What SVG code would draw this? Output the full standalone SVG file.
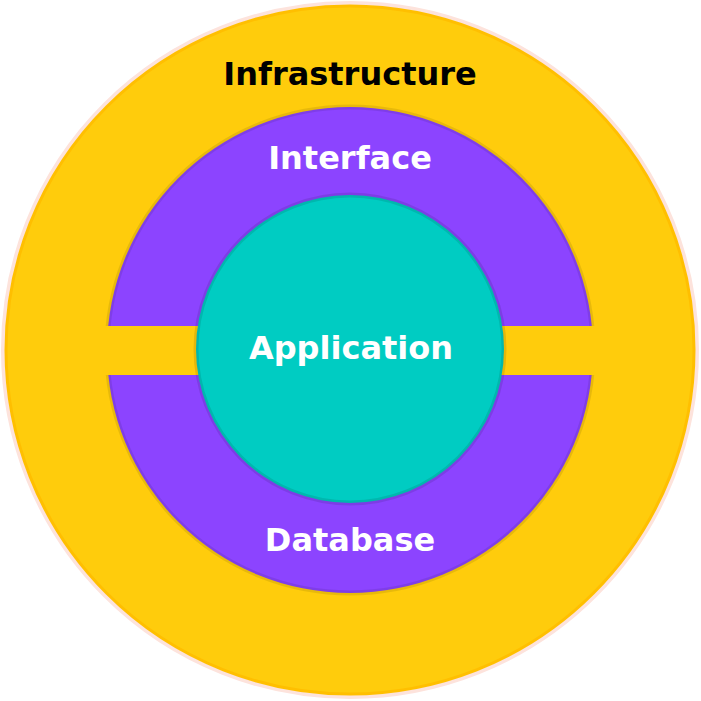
<svg xmlns="http://www.w3.org/2000/svg" width="701" height="701" viewBox="0 0 701 701">
<style>
.lbl{font-family:"DejaVu Sans",sans-serif;font-weight:bold;font-size:32px;text-anchor:middle}
.w{fill:#ffffff}
.k{fill:#000000}
</style>
<rect width="701" height="701" fill="#ffffff"/>
<g id="infrastructure">
<circle cx="350" cy="350" r="347" fill="none" stroke="#fde3dc" stroke-width="4"/>
<circle cx="350" cy="350" r="344" fill="#ffcc0c" stroke="#ffbf00" stroke-width="3"/>
<text class="lbl k" x="350" y="85">Infrastructure</text>
</g>
<g id="interface-database">
<circle cx="350" cy="350" r="243" fill="#8c44ff" stroke="#000" stroke-opacity="0.09" stroke-width="5"/>
<rect x="100" y="326" width="500" height="49" fill="#ffcc0c"/>
<text class="lbl w" x="350" y="169">Interface</text>
<text class="lbl w" x="350" y="551">Database</text>
</g>
<g id="application">
<circle cx="350" cy="349" r="154" fill="#00ccc2" stroke="#000" stroke-opacity="0.1" stroke-width="5"/>
<text class="lbl w" x="351" y="359">Application</text>
</g>
</svg>
